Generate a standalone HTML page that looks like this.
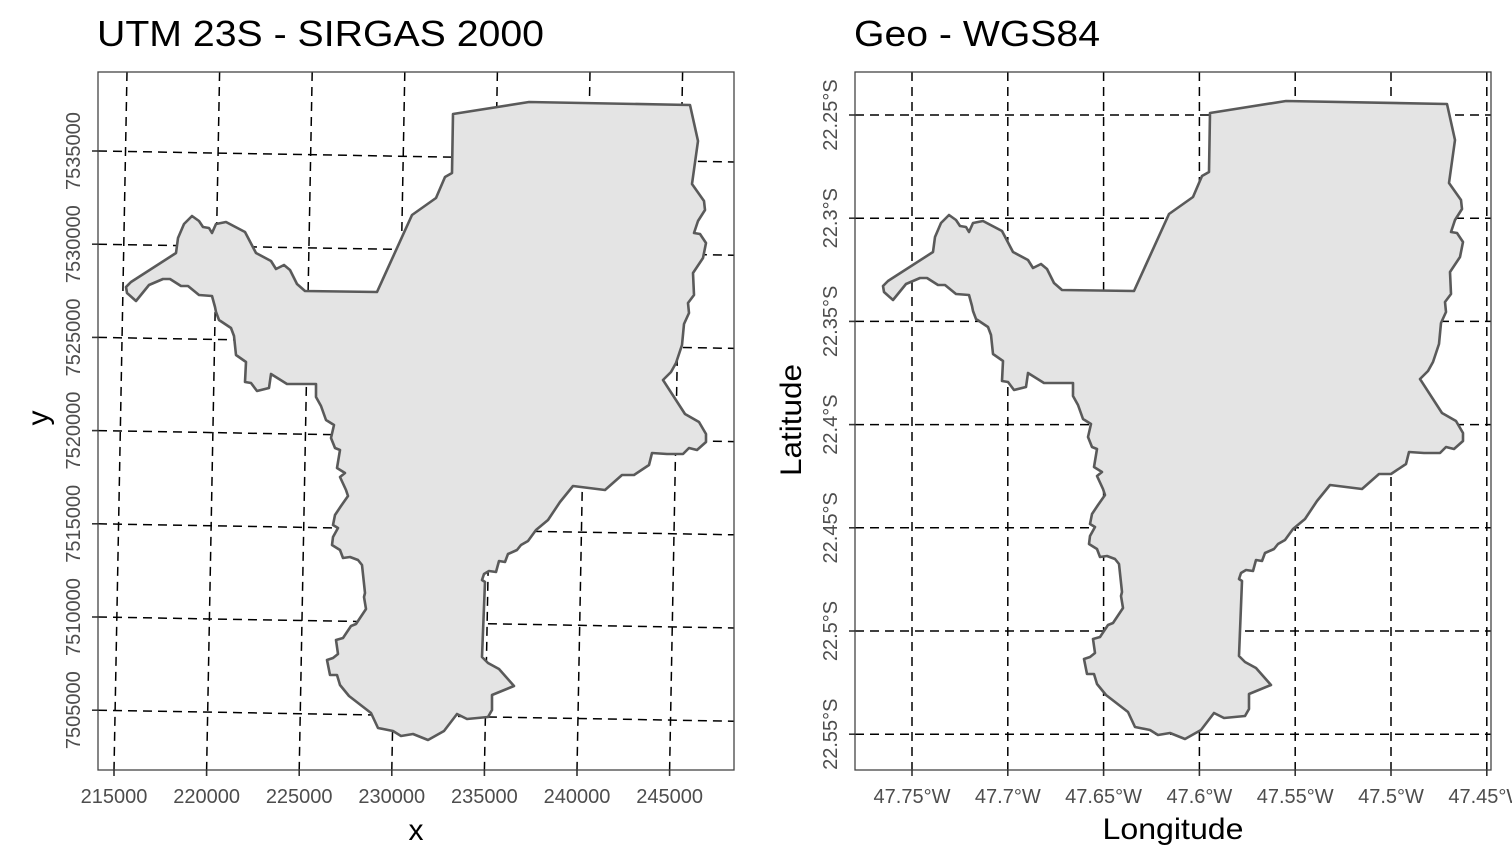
<!DOCTYPE html>
<html><head><meta charset="utf-8"><style>
html,body{margin:0;padding:0;background:#fff}
svg{display:block;font-family:"Liberation Sans",Arial,sans-serif}
</style></head><body>
<svg id="fig" width="1512" height="864" viewBox="0 0 1512 864" xmlns="http://www.w3.org/2000/svg">
<rect x="0" y="0" width="1512" height="864" fill="#fff"/>
<g id="left"></g>
<g id="right"></g>
<text x="97" y="46" font-size="36" textLength="447" lengthAdjust="spacingAndGlyphs" fill="#000">UTM 23S - SIRGAS 2000</text>
<text x="854" y="46" font-size="36" textLength="246" lengthAdjust="spacingAndGlyphs" fill="#000">Geo - WGS84</text>
<text x="416" y="840" font-size="30" text-anchor="middle">x</text>
<text transform="translate(48,418) rotate(-90)" font-size="30" text-anchor="middle">y</text>
<text x="1173" y="839" font-size="30" textLength="141" lengthAdjust="spacingAndGlyphs" text-anchor="middle">Longitude</text>
<text transform="translate(801,420) rotate(-90)" font-size="30" textLength="112" lengthAdjust="spacingAndGlyphs" text-anchor="middle">Latitude</text>
</svg>
<script>
const utmXTicks=[215000,220000,225000,230000,235000,240000,245000];
const utmXLabels=["215000","220000","225000","230000","235000","240000","245000"];
const utmYTicks=[7535000,7530000,7525000,7520000,7515000,7510000,7505000];
const utmYLabels=["7535000","7530000","7525000","7520000","7515000","7510000","7505000"];
const lonTicks=[-47.75,-47.7,-47.65,-47.6,-47.55,-47.5,-47.45];
const lonLabels=["47.75°W","47.7°W","47.65°W","47.6°W","47.55°W","47.5°W","47.45°W"];
const latTicks=[-22.25,-22.3,-22.35,-22.4,-22.45,-22.5,-22.55];
const latLabels=["22.25°S","22.3°S","22.35°S","22.4°S","22.45°S","22.5°S","22.55°S"];
// municipality boundary traced in UTM-panel plot coordinates
const outline=[[453,114],[529,102],[690,105],[698,141],[692,184],[704,201],[705,210],[698,221],[694,233],[700,234],[706,243],[703,258],[693,273],[694,295],[688,303],[689,313],[684,324],[682,345],[676,363],[671,372],[663,380],[685,414],[699,422],[706,434],[706,442],[697,450],[689,448],[683,454],[667,454],[652,453],[649,465],[634,475],[622,475],[605,490],[573,486],[560,502],[548,520],[536,530],[528,541],[521,545],[517,550],[508,554],[505,562],[499,561],[496,572],[489,571],[484,574],[482,580],[485,582],[482,657],[488,663],[499,669],[514,686],[492,695],[492,710],[488,717],[467,719],[457,714],[444,731],[428,740],[413,734],[401,736],[393,731],[378,728],[371,713],[349,696],[340,685],[337,675],[330,675],[327,660],[333,658],[338,654],[336,640],[343,638],[351,626],[356,624],[362,615],[366,609],[364,597],[365,593],[362,565],[358,560],[350,557],[343,558],[340,550],[332,545],[333,537],[338,528],[333,525],[335,515],[341,506],[348,496],[346,490],[340,477],[345,473],[337,468],[340,450],[335,448],[331,438],[334,425],[326,420],[321,406],[316,397],[316,384],[287,384],[271,374],[269,388],[257,391],[251,383],[245,382],[246,362],[236,355],[234,336],[231,328],[219,320],[216,312],[215,307],[212,296],[199,295],[188,286],[181,286],[170,279],[163,279],[149,285],[136,301],[127,293],[126,287],[131,282],[176,253],[178,238],[184,224],[192,216],[199,221],[203,227],[209,228],[212,233],[216,224],[226,222],[245,232],[256,253],[271,261],[276,269],[284,265],[290,270],[297,284],[305,291],[377,292],[412,215],[436,198],[445,177],[452,173]];

const NS="http://www.w3.org/2000/svg";
function mk(parent,tag,attrs){const e=document.createElementNS(NS,tag);for(const k in attrs)e.setAttribute(k,attrs[k]);parent.appendChild(e);return e;}
const L={x0:98,x1:734,y0:72,y1:770};
const R={x0:855,x1:1491,y0:72,y1:770};
const ux=v=>114+(v-215000)*92.6/5000;
const uy=v=>151+(7535000-v)*93.2/5000;
const gx=v=>912+(v+47.75)*95.8/0.05;
const gy=v=>115+(-22.25-v)*103.2/0.05;
const gl=document.getElementById('left'), gr=document.getElementById('right');
const dash={stroke:"#000","stroke-width":1.5,"stroke-dasharray":"9,6",fill:"none"};

function panel(g,P,vlines,hlines,poly,xt,xl,yt,yl,grp){
  mk(g,'rect',{x:P.x0,y:P.y0,width:P.x1-P.x0,height:P.y1-P.y0,fill:"#fff"});
  vlines.forEach((l,i)=>{const e=mk(g,'line',Object.assign({x1:l[0],y1:P.y0,x2:l[1],y2:P.y1},dash));
    
    });
  hlines.forEach((l,i)=>{const e=mk(g,'line',Object.assign({x1:P.x0,y1:l[0],x2:P.x1,y2:l[1]},dash));
    
    });
  const pg=mk(g,'polygon',{points:poly.map(p=>p.join(',')).join(' '),fill:"#e4e4e4",stroke:"#5a5a5a","stroke-width":2.6,"stroke-linejoin":"round"});
  
  
  mk(g,'rect',{x:P.x0,y:P.y0,width:P.x1-P.x0,height:P.y1-P.y0,fill:"none",stroke:"#444","stroke-width":1.3});
  xt.forEach((x,i)=>{mk(g,'line',{x1:x,y1:P.y1,x2:x,y2:P.y1+6,stroke:"#333","stroke-width":1.6});
    const t=mk(g,'text',{x:x,y:803,"font-size":20,fill:"#4d4d4d","text-anchor":"middle"});t.textContent=xl[i];
    
    });
  yt.forEach((y,i)=>{mk(g,'line',{x1:P.x0-6,y1:y,x2:P.x0,y2:y,stroke:"#333","stroke-width":1.6});
    const t=mk(g,'text',{transform:`translate(${P.x0-18},${y}) rotate(-90)`,"font-size":20,fill:"#4d4d4d","text-anchor":"middle"});t.textContent=yl[i];
    
    });
}
const lxb=utmXTicks.map(ux), lyl=utmYTicks.map(uy);
panel(gl,L,lxb.map(b=>[b+13,b]),lyl.map(a=>[a,a+11]),outline,lxb,utmXLabels,lyl,utmYLabels,'utm');
const rx=lonTicks.map(gx), ry=latTicks.map(gy);
panel(gr,R,rx.map(x=>[x,x]),ry.map(y=>[y,y]),outline.map(p=>[p[0]+757,p[1]-1]),rx,lonLabels,ry,latLabels,'geo');
</script>
</body></html>
